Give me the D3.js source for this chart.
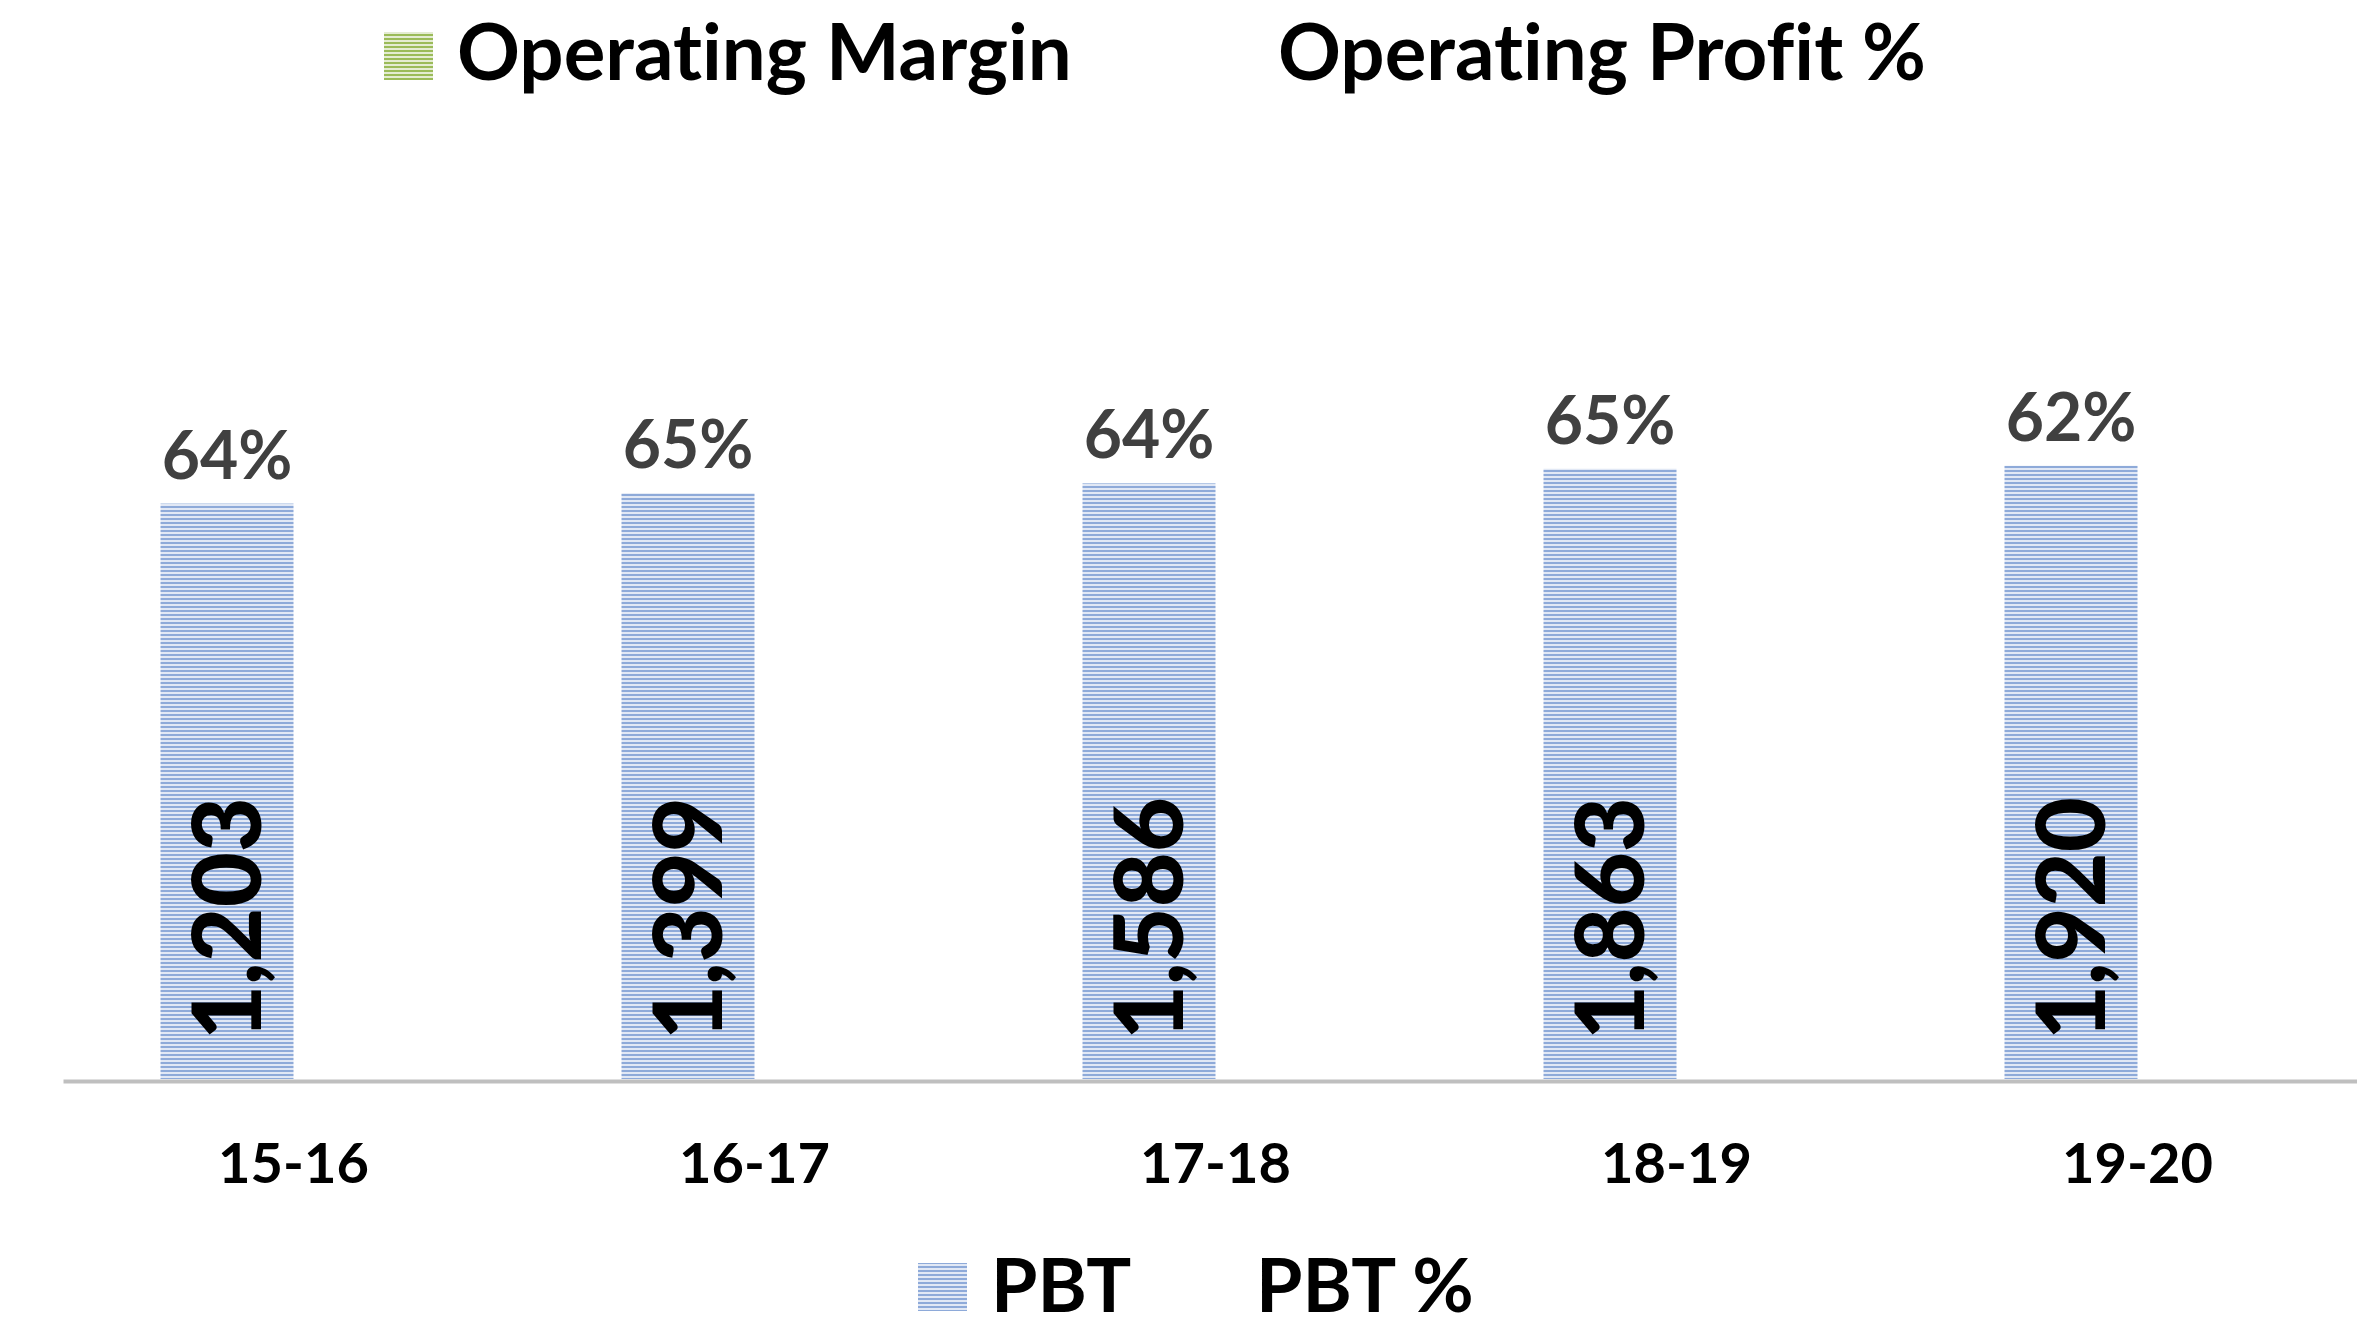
<!DOCTYPE html>
<html>
<head>
<meta charset="utf-8">
<script src="https://cdn.jsdelivr.net/npm/d3@7"></script>
<style>
  html, body { margin: 0; padding: 0; background: #ffffff; }
  svg { display: block; font-family: Lato, "Open Sans", sans-serif; font-weight: bold; font-variant-ligatures: none; }
</style>
</head>
<body>
<svg id="chart"></svg>
<script>
// data
var years = ["15-16", "16-17", "17-18", "18-19", "19-20"];
var pbt = [1203, 1399, 1586, 1863, 1920];
var pbtPct = [64, 65, 64, 65, 62];
var clusterSeries = ["PBT", "Operating Margin"];
var topLegend = ["Operating Margin", "Operating Profit %"];
var bottomLegend = ["PBT", "PBT %"];

var width = 2357,
  height = 1341;

var svg = d3.select("#chart").attr("width", width).attr("height", height);

// striped fills like the excel pattern fill
var defs = svg.append("defs");
function stripes(id, light, dark) {
  var p = defs
    .append("pattern")
    .attr("id", id)
    .attr("patternUnits", "userSpaceOnUse")
    .attr("width", 8)
    .attr("height", 4);
  p.append("rect").attr("width", 8).attr("height", 4).attr("fill", light);
  p.append("rect").attr("y", 2).attr("width", 8).attr("height", 2).attr("fill", dark);
}
stripes("blueStripe", "#e1e8f5", "#8eaad9");
stripes("greenStripe", "#e4ecd2", "#9bbb59");

var x = d3
  .scaleBand()
  .domain(years)
  .range([63, 2368])
  .paddingInner(0.423)
  .paddingOuter(0.2115);

// bars sit in the left slot of each cluster, the other series is empty
var xs = d3.scaleBand().domain(clusterSeries).range([0, x.bandwidth()]);

var y = d3.scaleLinear().domain([-9700, 2000]).range([1079, 461.5]);

var rows = years.map(function(d, i) {
  return { year: d, pbt: pbt[i], pct: pbtPct[i] };
});

// bars
svg
  .append("g")
  .selectAll("rect")
  .data(rows)
  .enter()
  .append("rect")
  .attr("x", function(d) { return x(d.year) + xs("PBT"); })
  .attr("y", function(d) { return y(d.pbt); })
  .attr("width", xs.bandwidth())
  .attr("height", function(d) { return y.range()[0] - y(d.pbt); })
  .attr("fill", "url(#blueStripe)");

// axis line + category labels
var axis = svg
  .append("g")
  .attr("transform", "translate(0,1081)")
  .call(d3.axisBottom(x).tickSize(0).tickSizeOuter(0));
axis.select(".domain").attr("stroke", "#bfbfbf").attr("stroke-width", 4);
axis
  .selectAll("text")
  .attr("y", 102)
  .attr("dy", null)
  .attr("fill", "#000")
  .style("font-family", "Lato, sans-serif")
  .style("font-weight", "bold")
  .style("font-size", "56px");

// values written up inside the bars
var fmt = d3.format(",");
svg
  .append("g")
  .selectAll("text")
  .data(rows)
  .enter()
  .append("text")
  .attr("transform", function(d) {
    var cx = x(d.year) + xs("PBT") + xs.bandwidth() / 2;
    return "translate(" + cx + "," + (y.range()[0] - 39) + ") rotate(-90)";
  })
  .attr("dy", "0.36em")
  .attr("text-anchor", "start")
  .style("font-size", "95px")
  .style("font-weight", 900)
  .attr("fill", "#000")
  .text(function(d) { return fmt(d.pbt); });

// percentages above the bars
svg
  .append("g")
  .selectAll("text")
  .data(rows)
  .enter()
  .append("text")
  .attr("x", function(d) { return x(d.year) + xs("PBT") + xs.bandwidth() / 2; })
  .attr("y", function(d) { return y(d.pbt) - 25; })
  .attr("text-anchor", "middle")
  .style("font-size", "66px")
  .attr("fill", "#404040")
  .text(function(d) { return d.pct + "%"; });

// legends (the line series have no visible marker)
function legend(names, fill, textX, top, baseline, size) {
  var g = svg.append("g");
  g.append("rect")
    .attr("x", textX[0] - 73)
    .attr("y", top)
    .attr("width", 49)
    .attr("height", 48)
    .attr("fill", fill);
  g.selectAll("text")
    .data(names)
    .enter()
    .append("text")
    .attr("x", function(d, i) { return textX[i]; })
    .attr("y", baseline)
    .style("font-size", size + "px")
    .attr("fill", "#000")
    .text(function(d) { return d; });
}
legend(topLegend, "url(#greenStripe)", [457, 1278], 32, 80, 78);
legend(bottomLegend, "url(#blueStripe)", [991, 1256], 1263, 1312, 75);
</script>
</body>
</html>
